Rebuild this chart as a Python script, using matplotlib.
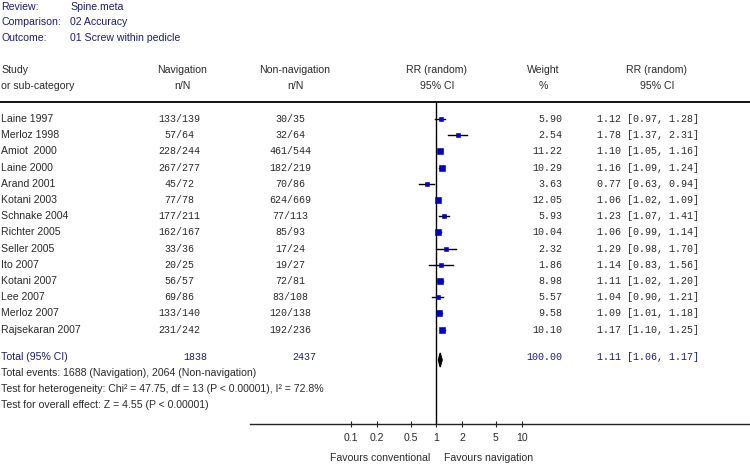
import matplotlib
matplotlib.use("Agg")
import matplotlib.pyplot as plt
import numpy as np

# ---------------- data ----------------
studies = ["Laine 1997", "Merloz 1998", "Amiot  2000", "Laine 2000", "Arand 2001",
           "Kotani 2003", "Schnake 2004", "Richter 2005", "Seller 2005", "Ito 2007",
           "Kotani 2007", "Lee 2007", "Merloz 2007", "Rajsekaran 2007"]
nav_n = [133, 57, 228, 267, 45, 77, 177, 162, 33, 20, 56, 69, 133, 231]
nav_N = [139, 64, 244, 277, 72, 78, 211, 167, 36, 25, 57, 86, 140, 242]
non_n = [30, 32, 461, 182, 70, 624, 77, 85, 17, 19, 72, 83, 120, 192]
non_N = [35, 64, 544, 219, 86, 669, 113, 93, 24, 27, 81, 108, 138, 236]
weights = [5.90, 2.54, 11.22, 10.29, 3.63, 12.05, 5.93, 10.04, 2.32, 1.86, 8.98, 5.57, 9.58, 10.10]
rr = [1.12, 1.78, 1.10, 1.16, 0.77, 1.06, 1.23, 1.06, 1.29, 1.14, 1.11, 1.04, 1.09, 1.17]
lo = [0.97, 1.37, 1.05, 1.09, 0.63, 1.02, 1.07, 0.99, 0.98, 0.83, 1.02, 0.90, 1.01, 1.10]
hi = [1.28, 2.31, 1.16, 1.24, 0.94, 1.09, 1.41, 1.14, 1.70, 1.56, 1.20, 1.21, 1.18, 1.25]
total_nav, total_non = 1838, 2437
total_w = 100.00
total_rr, total_lo, total_hi = 1.11, 1.06, 1.17
tick_vals = [0.1, 0.2, 0.5, 1, 2, 5, 10]
tick_labels = ["0.1", "0.2", "0.5", "1", "2", "5", "10"]

# ---------------- layout ----------------
W, H = 750, 465
fig = plt.figure(figsize=(7.5, 4.65), dpi=100)
fig.patch.set_facecolor("white")
bg = fig.add_axes([0, 0, 1, 1])
bg.set_xlim(0, W)
bg.set_ylim(H, 0)
bg.axis("off")

SANS = "Liberation Sans"
MONO = "Liberation Mono"
GREY = "#2b2b2b"
NAVY = "#1c1c78"
fs = 7.6
fsm = 7.2

# top info
for y, lab, val in [(7, "Review:", "Spine.meta"), (22, "Comparison:", "02 Accuracy"),
                    (38, "Outcome:", "01 Screw within pedicle")]:
    bg.text(1, y, lab, family=SANS, fontsize=fs, color=NAVY, va="center")
    bg.text(70, y, val, family=SANS, fontsize=fs, color=NAVY, va="center")

# column headers
hdr = [(1, "Study", "or sub-category", "left"),
       (182, "Navigation", "n/N", "center"),
       (295, "Non-navigation", "n/N", "center"),
       (437, "RR (random)", "95% CI", "center"),
       (543, "Weight", "%", "center"),
       (657, "RR (random)", "95% CI", "center")]
for x, t1, t2, ha in hdr:
    bg.text(x, 70, t1, family=SANS, fontsize=fs, color=GREY, va="center", ha=ha)
    bg.text(x, 86, t2, family=SANS, fontsize=fs, color=GREY, va="center", ha=ha)
bg.plot([0, W], [102, 102], color="black", lw=1.3)

row0, dy = 119, 16.2
ys = [row0 + dy * i for i in range(len(studies))]
for i, y in enumerate(ys):
    bg.text(1, y, studies[i], family=SANS, fontsize=fs, color=GREY, va="center")
    bg.text(179, y, f"{nav_n[i]}/{nav_N[i]}", family=MONO, fontsize=fsm, color=GREY, va="center", ha="center")
    bg.text(290, y, f"{non_n[i]}/{non_N[i]}", family=MONO, fontsize=fsm, color=GREY, va="center", ha="center")
    bg.text(562, y, f"{weights[i]:.2f}", family=MONO, fontsize=fsm, color=GREY, va="center", ha="right")
    bg.text(597, y, f"{rr[i]:.2f} [{lo[i]:.2f}, {hi[i]:.2f}]", family=MONO, fontsize=fsm, color=GREY, va="center", ha="left")

yt = 357
bg.text(1, yt, "Total (95% CI)", family=SANS, fontsize=fs, color=NAVY, va="center")
bg.text(195, yt, f"{total_nav}", family=MONO, fontsize=fsm, color=NAVY, va="center", ha="center")
bg.text(304, yt, f"{total_non}", family=MONO, fontsize=fsm, color=NAVY, va="center", ha="center")
bg.text(562, yt, f"{total_w:.2f}", family=MONO, fontsize=fsm, color=NAVY, va="center", ha="right")
bg.text(597, yt, f"{total_rr:.2f} [{total_lo:.2f}, {total_hi:.2f}]", family=MONO, fontsize=fsm, color=NAVY, va="center", ha="left")

foot = [f"Total events: {sum(nav_n)} (Navigation), {sum(non_n)} (Non-navigation)",
        "Test for heterogeneity: Chi² = 47.75, df = 13 (P < 0.00001), I² = 72.8%",
        "Test for overall effect: Z = 4.55 (P < 0.00001)"]
for k, t in enumerate(foot):
    bg.text(1, 373 + 16 * k, t, family=SANS, fontsize=fs, color=GREY, va="center")

bg.text(430, 458, "Favours conventional", family=SANS, fontsize=fs, color=GREY, va="center", ha="right")
bg.text(444, 458, "Favours navigation", family=SANS, fontsize=fs, color=GREY, va="center", ha="left")

# forest axes
L, R = 250, 750
x1px, dec = 436.3, 85.4
ybot, ytop = 424, 102
ax = fig.add_axes([L / W, (H - ybot) / H, (R - L) / W, (ybot - ytop) / H])
ax.set_xscale("log")
ax.set_xlim(10 ** ((L - x1px) / dec), 10 ** ((R - x1px) / dec))
ax.set_ylim(ybot, ytop)
ax.patch.set_alpha(0)
for s in ["top", "right", "left"]:
    ax.spines[s].set_visible(False)
ax.spines["bottom"].set_linewidth(1.0)
ax.spines["bottom"].set_color("#222222")
ax.set_yticks([])
ax.set_xticks(tick_vals)
ax.set_xticklabels(tick_labels, family=SANS, fontsize=fs, color=GREY)
ax.minorticks_off()
ax.tick_params(axis="x", direction="inout", length=5, width=0.8, pad=4, color="#222222")
ax.axvline(1, color="black", lw=1.0)

for i, y in enumerate(ys):
    ax.plot([lo[i], hi[i]], [y, y], color="black", lw=1.0, zorder=2)
    side = 3.2 + 0.28 * weights[i]
    ax.plot([rr[i]], [y], marker="s", ms=side * 0.72, color="#0000cc",
            mec="#00008b", mew=0.4, zorder=3, ls="none")

yd, hd = 360, 7
ax.fill([total_lo, total_rr, total_hi, total_rr], [yd, yd - hd, yd, yd + hd],
        color="black", zorder=3)

fig.savefig("out.png", dpi=100)
